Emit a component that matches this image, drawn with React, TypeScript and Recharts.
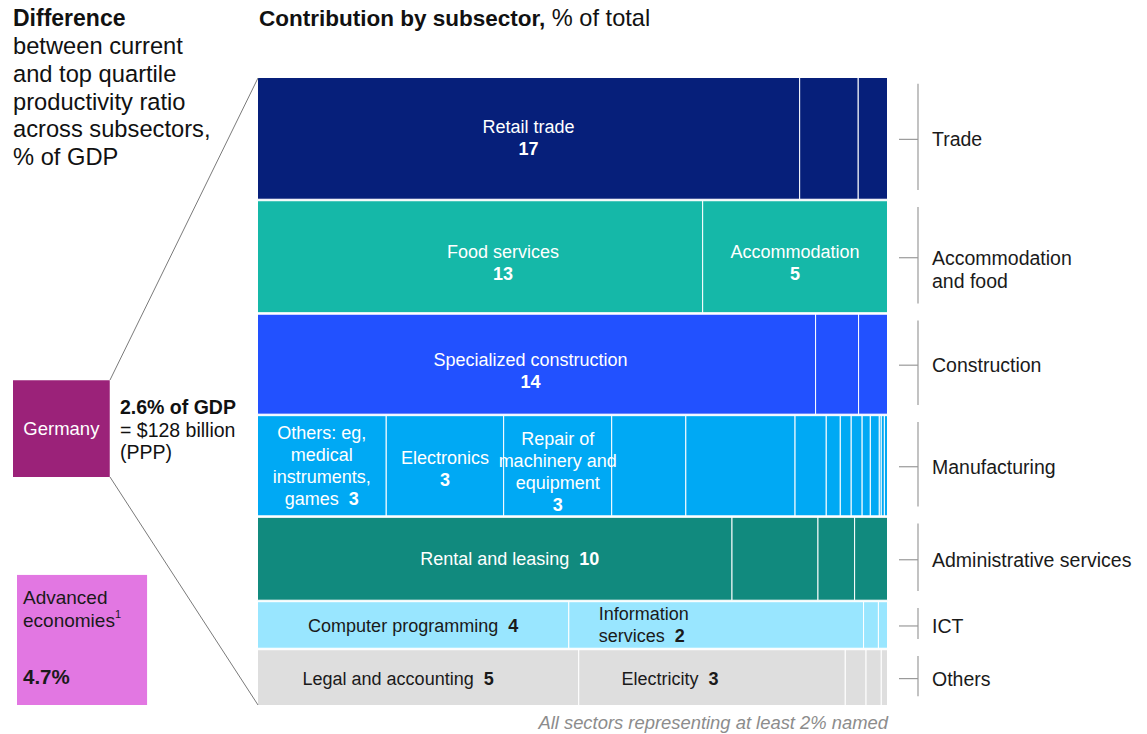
import React from "react";
import { ComposedChart, XAxis, YAxis, ReferenceArea } from "recharts";

const FONT = '"Liberation Sans", Arial, Helvetica, sans-serif';

// ---------- DATA ----------
// Sectors (rows, top to bottom)
const sectorNames: string[][] = [
  ["Trade"],
  ["Accommodation", "and food"],
  ["Construction"],
  ["Manufacturing"],
  ["Administrative services"],
  ["ICT"],
  ["Others"],
];
const sectorColors = ["#061f7a", "#15b8a8", "#2251ff", "#00a9f4", "#118a7e", "#99e6ff", "#dedede"];
const sectorTextColors = ["#ffffff", "#ffffff", "#ffffff", "#ffffff", "#ffffff", "#1a1a1a", "#1a1a1a"];

// Subsector contributions, % of total
const tradeValues = [16.85, 1.82, 0.91];
const accommodationValues = [12.74, 5.29];
const constructionValues = [14.28, 1.1, 0.74];
const manufacturingValues = [3.3, 3.01, 2.77, 1.9, 2.8, 0.8, 0.36, 0.28, 0.28, 0.21, 0.23, 0.05, 0.08, 0.08];
const adminValues = [10.1, 1.83, 0.78, 0.7];
const ictValues = [3.77, 3.57, 0.18, 0.11];
const otherValues = [4.64, 3.85, 0.3, 0.22, 0.09];
const sectorValues = [tradeValues, accommodationValues, constructionValues, manufacturingValues, adminValues, ictValues, otherValues];

// Named subsectors (all representing at least 2%)
const namedSubsectors = [
  { sector: 0, index: 0, lines: ["Retail trade"], shown: "17", inline: false },
  { sector: 1, index: 0, lines: ["Food services"], shown: "13", inline: false },
  { sector: 1, index: 1, lines: ["Accommodation"], shown: "5", inline: false },
  { sector: 2, index: 0, lines: ["Specialized construction"], shown: "14", inline: false },
  { sector: 3, index: 0, lines: ["Others: eg,", "medical", "instruments,", "games"], shown: "3", inline: true },
  { sector: 3, index: 1, lines: ["Electronics"], shown: "3", inline: false },
  { sector: 3, index: 2, lines: ["Repair of", "machinery and", "equipment"], shown: "3", inline: false },
  { sector: 4, index: 0, lines: ["Rental and leasing"], shown: "10", inline: true },
  { sector: 5, index: 0, lines: ["Computer programming"], shown: "4", inline: true },
  { sector: 5, index: 1, lines: ["Information", "services"], shown: "2", inline: true },
  { sector: 6, index: 0, lines: ["Legal and accounting"], shown: "5", inline: true },
  { sector: 6, index: 1, lines: ["Electricity"], shown: "3", inline: true },
];

// Productivity gap, % of GDP
const gapLabels = ["Germany", "Advanced economies"];
const gapValues = [2.6, 4.7];

// ---------- STYLE / LAYOUT ----------
const W = 1147;
const H = 734;
const ROW_INSET = 0.75;
const LINE = 22;
const labelNudge: Record<string, { dx?: number; dy?: number; start?: number }> = {
  "1-0": { dx: 23, dy: 6 },
  "1-1": { dy: 6 },
  "2-0": { dx: -6, dy: 7 },
  "3-1": { dy: 3 },
  "3-2": { dy: 6 },
  "4-0": { dx: 15 },
  "5-1": { start: 30 },
  "6-0": { dx: -20, dy: 1 },
  "6-1": { dx: -42, dy: 1 },
  "5-0": { dy: 1 },
};

const rowTotals = sectorValues.map((vals) => vals.reduce((a, b) => a + b, 0));
const grandTotal = rowTotals.reduce((a, b) => a + b, 0);

type Cell = { key: string; sector: number; index: number; x1: number; x2: number; y1: number; y2: number };
const cells: Cell[] = [];
const rows: { sector: number; y1: number; y2: number }[] = [];
{
  let yCum = 0;
  sectorValues.forEach((vals, s) => {
    let xCum = 0;
    vals.forEach((v, i) => {
      cells.push({
        key: `${s}-${i}`,
        sector: s,
        index: i,
        x1: (xCum / rowTotals[s]) * 100,
        x2: ((xCum + v) / rowTotals[s]) * 100,
        y1: yCum,
        y2: yCum + rowTotals[s],
      });
      xCum += v;
    });
    rows.push({ sector: s, y1: yCum, y2: yCum + rowTotals[s] });
    yCum += rowTotals[s];
  });
}
const labelledCells = cells.filter((c) => namedSubsectors.some((n) => n.sector === c.sector && n.index === c.index));

function renderCellLabel(cell: Cell, x: number, y: number, w: number, h: number) {
  const named = namedSubsectors.find((n) => n.sector === cell.sector && n.index === cell.index);
  if (!named) return null;
  const nudge = labelNudge[cell.key] || {};
  const color = sectorTextColors[cell.sector];
  const nLines = named.lines.length + (named.inline ? 0 : 1);
  const cy = y + h / 2 + (nudge.dy || 0);
  const anchor = nudge.start !== undefined ? "start" : "middle";
  const cx = nudge.start !== undefined ? x + nudge.start : x + w / 2 + (nudge.dx || 0);
  const items: React.ReactNode[] = [];
  named.lines.forEach((line, i) => {
    const ly = cy + (i - (nLines - 1) / 2) * LINE;
    const isLast = i === named.lines.length - 1;
    items.push(
      <text key={i} x={cx} y={ly} textAnchor={anchor} dominantBaseline="central" fontSize={18} fontFamily={FONT} fill={color}>
        <tspan>{line}</tspan>
        {named.inline && isLast ? (
          <tspan dx={10} fontWeight="bold">
            {named.shown}
          </tspan>
        ) : null}
      </text>
    );
  });
  if (!named.inline) {
    const ly = cy + (nLines - 1 - (nLines - 1) / 2) * LINE;
    items.push(
      <text key="num" x={cx} y={ly} textAnchor={anchor} dominantBaseline="central" fontSize={18} fontWeight="bold" fontFamily={FONT} fill={color}>
        {named.shown}
      </text>
    );
  }
  return <g>{items}</g>;
}

function MainChart() {
  return (
    <div style={{ position: "absolute", left: 0, top: 0 }}>
      <ComposedChart width={W} height={H} margin={{ top: 76.75, right: 259.5, bottom: 27.75, left: 257.5 }}>
        <XAxis type="number" dataKey="x" domain={[0, 100]} hide allowDataOverflow />
        <YAxis type="number" domain={[0, grandTotal]} reversed hide allowDataOverflow />
        {cells.map((c) => (
          <ReferenceArea
            key={c.key}
            x1={c.x1}
            x2={c.x2}
            y1={c.y1}
            y2={c.y2}
            ifOverflow="visible"
            shape={(p: any) => (
              <rect
                x={p.x}
                y={p.y + ROW_INSET}
                width={p.width}
                height={p.height - 2 * ROW_INSET}
                fill={sectorColors[c.sector]}
                stroke="#ffffff"
                strokeWidth={1}
              />
            )}
          />
        ))}
        {labelledCells.map((c) => (
          <ReferenceArea
            key={`lbl-${c.key}`}
            x1={c.x1}
            x2={c.x2}
            y1={c.y1}
            y2={c.y2}
            ifOverflow="visible"
            shape={(p: any) => renderCellLabel(c, p.x, p.y, p.width, p.height) || <g />}
          />
        ))}
        {rows.map((r) => (
          <ReferenceArea
            key={`row-${r.sector}`}
            x1={0}
            x2={100}
            y1={r.y1}
            y2={r.y2}
            ifOverflow="visible"
            shape={(p: any) => {
              const bx = p.x + p.width + 30.5;
              const cy = p.y + p.height / 2 + 1;
              return (
                <g>
                  <line x1={bx} x2={bx} y1={p.y + 7} y2={p.y + p.height - 10} stroke="#9a9a9a" strokeWidth={1.2} />
                  <line x1={bx - 19} x2={bx} y1={cy} y2={cy} stroke="#9a9a9a" strokeWidth={1.2} />
                  {sectorNames[r.sector].map((ln, i) => (
                    <text key={i} x={bx + 14} y={cy + i * 23.5} dominantBaseline="central" fontSize={19.5} fontFamily={FONT} fill="#1a1a1a">
                      {ln}
                    </text>
                  ))}
                </g>
              );
            }}
          />
        ))}
      </ComposedChart>
    </div>
  );
}

function GapBox({ i, left, bottom, color }: { i: number; left: number; bottom: number; color: string }) {
  const size = 150;
  const maxUnit = 2.5;
  const side = Math.sqrt(gapValues[i]);
  return (
    <div style={{ position: "absolute", left, top: bottom - size, width: size, height: size }}>
      <ComposedChart width={size} height={size} margin={{ top: 0, right: 0, bottom: 0, left: 0 }}>
        <XAxis type="number" dataKey="x" domain={[0, maxUnit]} hide allowDataOverflow />
        <YAxis type="number" domain={[0, maxUnit]} hide allowDataOverflow />
        <ReferenceArea
          x1={0}
          x2={side}
          y1={0}
          y2={side}
          ifOverflow="visible"
          shape={(p: any) => (
            <g>
              <rect x={p.x} y={p.y} width={p.width} height={p.height} fill={color} />
              {i === 0 ? (
                <text x={p.x + p.width / 2} y={p.y + p.height / 2} textAnchor="middle" dominantBaseline="central" fontSize={18.5} fontFamily={FONT} fill="#ffffff">
                  {gapLabels[0]}
                </text>
              ) : (
                <g fontFamily={FONT} fill="#1a1a1a">
                  <text x={p.x + 6} y={p.y + 23} dominantBaseline="central" fontSize={19}>
                    Advanced
                  </text>
                  <text x={p.x + 6} y={p.y + 46} dominantBaseline="central" fontSize={19}>
                    economies
                    <tspan fontSize={11} dy={-7}>1</tspan>
                  </text>
                  <text x={p.x + 6} y={p.y + 102} dominantBaseline="central" fontSize={20.5} fontWeight="bold">
                    {gapValues[1].toFixed(1)}%
                  </text>
                </g>
              )}
            </g>
          )}
        />
      </ComposedChart>
    </div>
  );
}

function Overlay() {
  const leftLines = ["between current", "and top quartile", "productivity ratio", "across subsectors,", "% of GDP"];
  return (
    <svg width={W} height={H} style={{ position: "absolute", left: 0, top: 0, pointerEvents: "none" }}>
      <g fontFamily={FONT} fill="#111">
        <text x={13} y={18} dominantBaseline="central" fontSize={23} fontWeight="bold">
          Difference
        </text>
        {leftLines.map((l, i) => (
          <text key={i} x={13} y={46 + i * 27.8} dominantBaseline="central" fontSize={23.7}>
            {l}
          </text>
        ))}
        <text x={259} y={18} dominantBaseline="central" fontSize={22.5}>
          <tspan fontWeight="bold">Contribution by subsector,</tspan>
          <tspan fontSize={23.6}> % of total</tspan>
        </text>
        <text x={120} y={407} dominantBaseline="central" fontSize={19.5} fontWeight="bold">
          {gapValues[0].toFixed(1)}% of GDP
        </text>
        <text x={120} y={430} dominantBaseline="central" fontSize={19.5}>
          = $128 billion
        </text>
        <text x={120} y={452} dominantBaseline="central" fontSize={19.5}>
          (PPP)
        </text>
        <text x={888} y={722} textAnchor="end" dominantBaseline="central" fontSize={18.4} fontStyle="italic" fill="#8c8c8c">
          All sectors representing at least 2% named
        </text>
      </g>
      <line x1={110} y1={380} x2={258} y2={78} stroke="#7a7a7a" strokeWidth={1} />
      <line x1={110} y1={477} x2={258} y2={705} stroke="#7a7a7a" strokeWidth={1} />
    </svg>
  );
}

export default function App() {
  return (
    <div style={{ position: "relative", width: W, height: H, fontFamily: FONT, background: "#fff", overflow: "hidden" }}>
      <style>{"body{margin:0;}"}</style>
      <MainChart />
      <GapBox i={0} left={13} bottom={477} color="#9b2279" />
      <GapBox i={1} left={17} bottom={705} color="#e277e2" />
      <Overlay />
    </div>
  );
}
